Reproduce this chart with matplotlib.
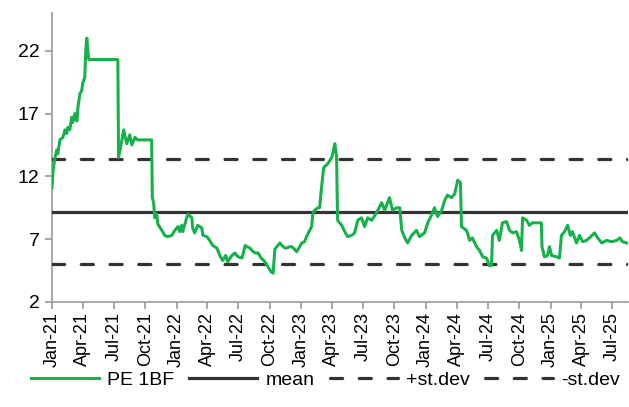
import matplotlib
matplotlib.use("Agg")
import matplotlib.pyplot as plt
import matplotlib.dates as mdates
import pandas as pd

plt.rcParams['font.family'] = ['Liberation Sans', 'DejaVu Sans']

# ---- data ----
dates = [
    "2021-01-01", "2021-01-04", "2021-01-10", "2021-01-15", "2021-01-18", "2021-01-24",
    "2021-02-02", "2021-02-08", "2021-02-13", "2021-02-16", "2021-02-22", "2021-02-28",
    "2021-03-03", "2021-03-09", "2021-03-15", "2021-03-18", "2021-03-24", "2021-03-29",
    "2021-04-01", "2021-04-07", "2021-04-10", "2021-04-13", "2021-04-16", "2021-04-19",
    "2021-07-13", "2021-07-15", "2021-07-25", "2021-07-30", "2021-08-08", "2021-08-17",
    "2021-08-23", "2021-09-01", "2021-09-09", "2021-10-20", "2021-10-22", "2021-10-26",
    "2021-10-29", "2021-11-04", "2021-11-07", "2021-11-19", "2021-11-27", "2021-12-06",
    "2021-12-18", "2021-12-27", "2022-01-05", "2022-01-10", "2022-01-16", "2022-01-19",
    "2022-01-31", "2022-02-03", "2022-02-15", "2022-02-17", "2022-02-23", "2022-03-04",
    "2022-03-16", "2022-03-19", "2022-03-31", "2022-04-08", "2022-04-17", "2022-04-29",
    "2022-05-08", "2022-05-16", "2022-05-25", "2022-05-31", "2022-06-12", "2022-06-21",
    "2022-06-30", "2022-07-12", "2022-07-21", "2022-07-26", "2022-08-04", "2022-08-10",
    "2022-08-19", "2022-08-28", "2022-09-06", "2022-09-17", "2022-09-26", "2022-10-05",
    "2022-10-11", "2022-10-16", "2022-10-22", "2022-10-31", "2022-11-06", "2022-11-14",
    "2022-11-20", "2022-11-29", "2022-12-05", "2022-12-13", "2022-12-19", "2022-12-28",
    "2023-01-03", "2023-01-11", "2023-01-17", "2023-01-26", "2023-02-01", "2023-02-04",
    "2023-02-10", "2023-02-19", "2023-02-24", "2023-03-02", "2023-03-08", "2023-03-20",
    "2023-04-01", "2023-04-10", "2023-04-15", "2023-04-18", "2023-04-30", "2023-05-09",
    "2023-05-17", "2023-05-29", "2023-06-07", "2023-06-16", "2023-06-27", "2023-07-06",
    "2023-07-15", "2023-07-27", "2023-08-10", "2023-08-25", "2023-09-03", "2023-09-17",
    "2023-09-26", "2023-10-08", "2023-10-17", "2023-10-23", "2023-11-01", "2023-11-09",
    "2023-11-21", "2023-12-05", "2023-12-14", "2023-12-29", "2024-01-07", "2024-01-18",
    "2024-01-27", "2024-02-05", "2024-02-17", "2024-02-26", "2024-03-05", "2024-03-17",
    "2024-03-26", "2024-04-04", "2024-04-12", "2024-04-15", "2024-04-30", "2024-05-09",
    "2024-05-17", "2024-05-29", "2024-06-07", "2024-06-16", "2024-06-27", "2024-07-06",
    "2024-07-12", "2024-07-15", "2024-07-27", "2024-08-04", "2024-08-13", "2024-08-25",
    "2024-09-03", "2024-09-12", "2024-09-23", "2024-10-02", "2024-10-08", "2024-10-11",
    "2024-10-23", "2024-10-31", "2024-11-09", "2024-12-05", "2024-12-07", "2024-12-14",
    "2024-12-23", "2024-12-29", "2025-01-04", "2025-01-18", "2025-01-27", "2025-02-02",
    "2025-02-11", "2025-02-20", "2025-02-28", "2025-03-06", "2025-03-18", "2025-03-27",
    "2025-04-05", "2025-04-16", "2025-04-25", "2025-05-10", "2025-05-19", "2025-05-31",
    "2025-06-14", "2025-06-29", "2025-07-14", "2025-07-23", "2025-07-31", "2025-08-12",
]
pe_1bf = [
    11.1, 12.5, 13.5, 14.1, 13.8, 14.9,
    15.1, 15.7, 15.4, 15.9, 15.7, 16.7,
    16.3, 17.0, 16.4, 17.5, 18.6, 18.8,
    19.4, 19.9, 22.0, 23.0, 22.0, 21.3,
    21.3, 13.5, 14.9, 15.7, 14.6, 15.3,
    14.5, 15.1, 14.9, 14.9, 10.3, 9.9,
    8.7, 9.0, 8.2, 7.7, 7.3, 7.2,
    7.3, 7.7, 8.0, 7.6, 8.1, 7.6,
    8.7, 9.0, 8.7, 7.9, 7.5, 8.1,
    7.9, 7.3, 7.2, 6.9, 6.5, 6.3,
    5.7, 5.3, 5.7, 5.2, 5.7, 5.9,
    5.6, 5.5, 6.5, 6.4, 6.3, 6.1,
    5.9, 5.9, 5.5, 5.2, 4.8, 4.4,
    4.3, 6.2, 6.4, 6.7, 6.5, 6.3,
    6.3, 6.4, 6.4, 6.2, 6.0, 6.4,
    6.7, 6.8, 7.2, 7.7, 8.0, 9.0,
    9.3, 9.5, 9.5, 11.1, 12.7, 13.0,
    13.5, 14.6, 13.5, 8.5, 8.1, 7.6,
    7.2, 7.3, 7.5, 8.5, 8.7, 8.0,
    8.7, 8.5, 9.1, 9.9, 9.3, 10.3,
    9.3, 9.5, 9.5, 7.7, 7.1, 6.7,
    7.3, 7.7, 7.2, 7.5, 8.3, 8.9,
    9.5, 8.8, 9.3, 10.1, 10.5, 10.3,
    10.6, 11.7, 11.5, 8.0, 7.7, 6.9,
    7.1, 6.4, 6.1, 5.6, 5.5, 4.9,
    4.9, 7.3, 7.7, 6.9, 8.3, 8.4,
    7.7, 7.5, 7.6, 6.9, 6.1, 8.7,
    8.5, 8.1, 8.3, 8.3, 6.4, 5.6,
    5.7, 6.4, 5.7, 5.6, 5.5, 7.3,
    7.6, 8.1, 7.3, 7.6, 6.7, 7.3,
    6.8, 6.9, 7.1, 7.5, 7.1, 6.7,
    6.9, 6.8, 6.9, 7.1, 6.8, 6.7,
]
mean_val = 9.2
plus_sd = 13.4
minus_sd = 5.0
y_ticks = [2, 7, 12, 17, 22]
series_labels = ["PE 1BF", "mean", "+st.dev", "-st.dev"]

# ---- plot ----
green = "#17B14B"
dark = "#333333"
spine_c = "#A0A0A0"

x = pd.to_datetime(dates)
x_start = pd.Timestamp("2021-01-01")
x_end = pd.Timestamp("2025-08-16")

fig = plt.figure(figsize=(6.29, 4.07), dpi=100)
ax = fig.add_axes([52 / 629, 1 - 302 / 407, (628 - 52) / 629, (302 - 13) / 407])

ax.plot(x, pe_1bf, color=green, lw=2.2, label=series_labels[0], zorder=4)
ax.plot([x_start, x_end], [mean_val, mean_val], color=dark, lw=2.3,
        label=series_labels[1], zorder=3)
ax.plot([x_start, x_end], [plus_sd, plus_sd], color=dark, lw=2.3,
        dashes=(3.8, 5.2), dash_capstyle='round', label=series_labels[2], zorder=3)
ax.plot([x_start, x_end], [minus_sd, minus_sd], color=dark, lw=2.3,
        dashes=(3.8, 5.2), dash_capstyle='round', label=series_labels[3], zorder=3)

ax.set_xlim(x_start, x_end)
ax.set_ylim(2, 25)
ax.set_yticks(y_ticks)
ax.xaxis.set_major_locator(mdates.MonthLocator(bymonth=[1, 4, 7, 10]))
ax.xaxis.set_major_formatter(mdates.DateFormatter("%b-%y"))

for s in ["top", "right"]:
    ax.spines[s].set_visible(False)
for s in ["left", "bottom"]:
    ax.spines[s].set_color(spine_c)
    ax.spines[s].set_linewidth(1.3)

ax.tick_params(axis='both', colors=spine_c, labelcolor="black",
               direction='out', length=5, width=1.3)
ax.tick_params(axis='x', pad=2, labelsize=13)
ax.tick_params(axis='y', pad=4, labelsize=14)
plt.setp(ax.get_xticklabels(), rotation=90, ha='center', va='top')

fig.legend(loc='center', bbox_to_anchor=(0.517, 0.066), ncol=4, frameon=False,
           fontsize=14, handlelength=3.5, handletextpad=0.4, columnspacing=0.8,
           borderpad=0, borderaxespad=0)

fig.savefig("out.png", dpi=100)
